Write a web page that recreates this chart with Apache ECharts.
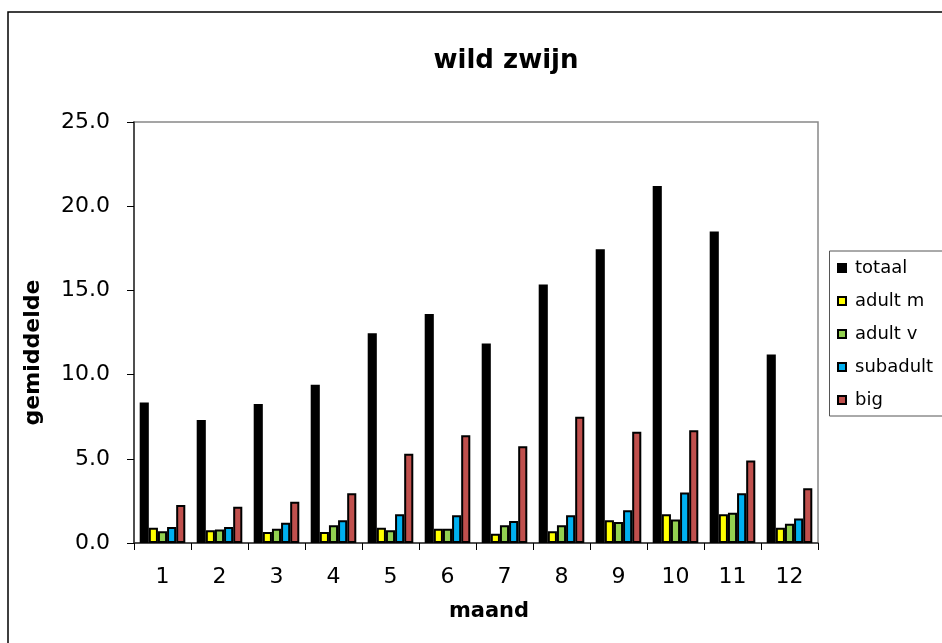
<!DOCTYPE html>
<html>
<head>
<meta charset="utf-8">
<script src="https://cdn.jsdelivr.net/npm/echarts@6/dist/echarts.min.js"></script>
<style>
html,body{margin:0;padding:0;background:#fff;}
#chart{width:942px;height:643px;}
</style>
</head>
<body>
<div id="chart"></div>
<script>
const months = ['1','2','3','4','5','6','7','8','9','10','11','12'];
const totaal   = [8.35, 7.3, 8.25, 9.4, 12.45, 13.6, 11.85, 15.35, 17.45, 21.2, 18.5, 11.2];
const adultM   = [0.9, 0.75, 0.65, 0.65, 0.9, 0.85, 0.55, 0.7, 1.35, 1.7, 1.7, 0.9];
const adultV   = [0.7, 0.8, 0.85, 1.05, 0.75, 0.85, 1.05, 1.05, 1.25, 1.4, 1.8, 1.15];
const subadult = [0.95, 0.95, 1.2, 1.35, 1.7, 1.65, 1.3, 1.65, 1.95, 3.0, 2.95, 1.45];
const big      = [2.25, 2.15, 2.45, 2.95, 5.3, 6.4, 5.75, 7.5, 6.6, 6.7, 4.9, 3.25];
const seriesNames = ['totaal', 'adult m', 'adult v', 'subadult', 'big'];
const seriesColors = ['#000000', '#FFFF00', '#92D050', '#00B0F0', '#C0504D'];
const seriesData = [totaal, adultM, adultV, subadult, big];

const chart = echarts.init(document.getElementById('chart'), null, {renderer: 'canvas'});
const FONT = 'DejaVu Sans';

chart.setOption({
  animation: false,
  backgroundColor: '#ffffff',
  title: {
    text: 'wild zwijn',
    left: 501,
    top: 43,
    textAlign: 'center',
    textStyle: {fontFamily: FONT, fontWeight: 'bold', fontSize: 26, color: '#000'}
  },
  graphic: [{
    type: 'rect',
    shape: {x: 8, y: 12, width: 1000, height: 700},
    style: {fill: 'none', stroke: '#000', lineWidth: 1.5},
    silent: true
  }, {
    type: 'rect',
    shape: {x: 829.5, y: 251, width: 200, height: 165},
    style: {fill: 'none', stroke: '#555', lineWidth: 1},
    silent: true
  }],
  legend: {
    orient: 'vertical',
    left: 829,
    top: 251,
    padding: [8, 8, 8, 8],
    itemGap: 15,
    itemWidth: 8,
    itemHeight: 8,
    icon: 'rect',
    textStyle: {fontFamily: FONT, fontSize: 18, color: '#000', padding: [0, 0, 0, 4]},
    itemStyle: {borderColor: '#000', borderWidth: 2},
    data: seriesNames
  },
  grid: {
    left: 134, right: 124, top: 122, bottom: 100,
    show: true, borderColor: '#888', borderWidth: 1.5, backgroundColor: 'transparent'
  },
  xAxis: {
    type: 'category',
    data: months,
    name: 'maand',
    nameLocation: 'middle',
    nameGap: 58,
    nameTextStyle: {fontFamily: FONT, fontWeight: 'bold', fontSize: 21, color: '#000', padding: [0, 0, 0, 26]},
    axisLine: {lineStyle: {color: '#333', width: 1.5}},
    axisTick: {show: true, length: 7, inside: false, lineStyle: {color: '#000', width: 1}},
    axisLabel: {fontFamily: FONT, fontSize: 22, color: '#000', margin: 23},
    splitLine: {show: false}
  },
  yAxis: {
    type: 'value',
    min: 0, max: 25, interval: 5,
    name: 'gemiddelde',
    nameLocation: 'middle',
    nameGap: 90,
    nameRotate: 90,
    nameTextStyle: {fontFamily: FONT, fontWeight: 'bold', fontSize: 22, color: '#000', padding: [0, 40, 0, 0]},
    axisLine: {show: true, lineStyle: {color: '#333', width: 1.5}},
    axisTick: {show: true, length: 7, inside: false, lineStyle: {color: '#000', width: 1}},
    axisLabel: {fontFamily: FONT, fontSize: 22, color: '#000', margin: 24, formatter: v => v.toFixed(1)},
    splitLine: {show: false}
  },
  series: seriesNames.map((name, i) => ({
    name: name,
    type: 'bar',
    data: seriesData[i],
    barGap: '0%',
    barCategoryGap: '20%',
    itemStyle: {color: seriesColors[i], borderColor: '#000', borderWidth: 2}
  }))
});
</script>
</body>
</html>
